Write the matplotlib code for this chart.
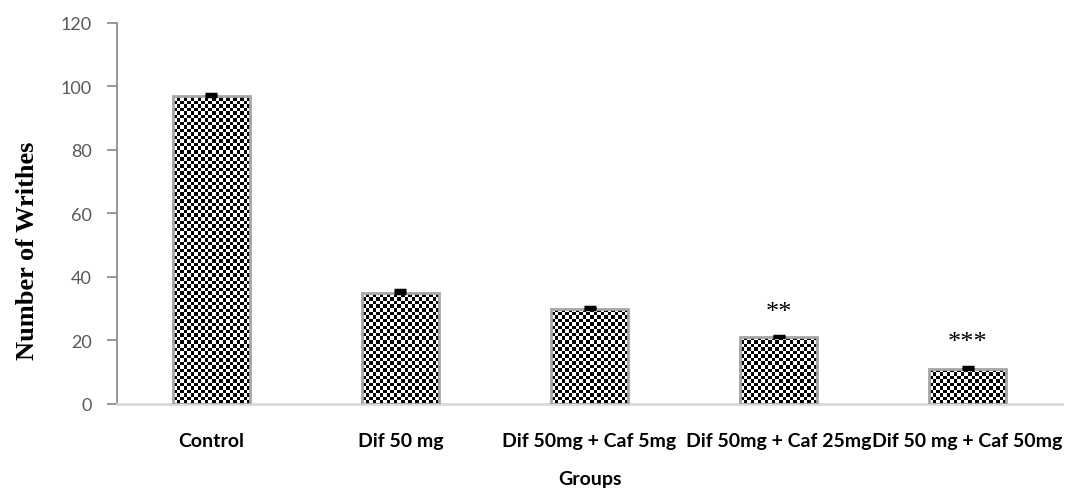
import numpy as np
import matplotlib.pyplot as plt

# data
groups = ['Control', 'Dif 50 mg', 'Dif 50mg + Caf 5mg', 'Dif 50mg + Caf 25mg', 'Dif 50 mg + Caf 50mg']
means = [97, 35, 30, 21, 11]
errors = [0.7, 0.8, 0.5, 0.5, 0.6]
marks = ['', '', '', '**', '***']
mark_y = [0, 0, 0, 27, 17.5]

fig = plt.figure(figsize=(10.69, 4.89), dpi=100)
ax = fig.add_axes([0.1094, 0.1718, 0.8841, 0.7792])

x = np.arange(len(groups))
bars = ax.bar(x, means, width=0.41, facecolor='none', edgecolor='#a6a6a6', linewidth=2, zorder=3)

# checkerboard fill, clipped to each bar
cell = 3.5
w_px, h_px = 0.8841 * 1069, 0.7792 * 489
nx, ny = int(w_px / cell), int(h_px / cell)
checker = (np.add.outer(np.arange(ny), np.arange(nx)) % 2).astype(float)
for b in bars:
    im = ax.imshow(checker, cmap='gray', interpolation='nearest', extent=(0, 1, 0, 1),
                   transform=ax.transAxes, aspect='auto', zorder=2, vmin=0, vmax=1)
    im.set_clip_path(b)

ax.errorbar(x, means, yerr=[np.zeros(len(errors)), errors], fmt='none', ecolor='black',
            elinewidth=1.5, capsize=4, capthick=2.5, zorder=4)

for xi, m, yy in zip(x, marks, mark_y):
    if m:
        ax.text(xi, yy, m, ha='center', va='baseline', fontsize=19, family='Liberation Serif')

ax.set_xlim(-0.5, 4.5)
ax.set_ylim(0, 120)
ax.set_yticks(range(0, 121, 20))
ax.set_xticks(x)
ax.set_xticklabels(groups, fontsize=14, fontweight='bold', family='Lato')
ax.tick_params(axis='x', length=0, pad=20)
ax.tick_params(axis='y', length=7, width=1.2, color='#868686', labelcolor='#595959', labelsize=13, pad=11)
for lab in ax.get_yticklabels():
    lab.set_family('Lato')

for s in ['top', 'right']:
    ax.spines[s].set_visible(False)
ax.spines['left'].set_color('#868686')
ax.spines['left'].set_linewidth(1.2)
ax.spines['bottom'].set_color('#d9d9d9')
ax.spines['bottom'].set_linewidth(2)

ax.set_ylabel('Number of Writhes', fontsize=19, fontweight='bold', family='Liberation Serif')
ax.yaxis.set_label_coords(-0.0825, 0.404)
ax.set_xlabel('Groups', fontsize=14, fontweight='bold', family='Lato', va='top')
ax.xaxis.set_label_coords(0.5, -0.172)

fig.savefig('out.png', dpi=100)
